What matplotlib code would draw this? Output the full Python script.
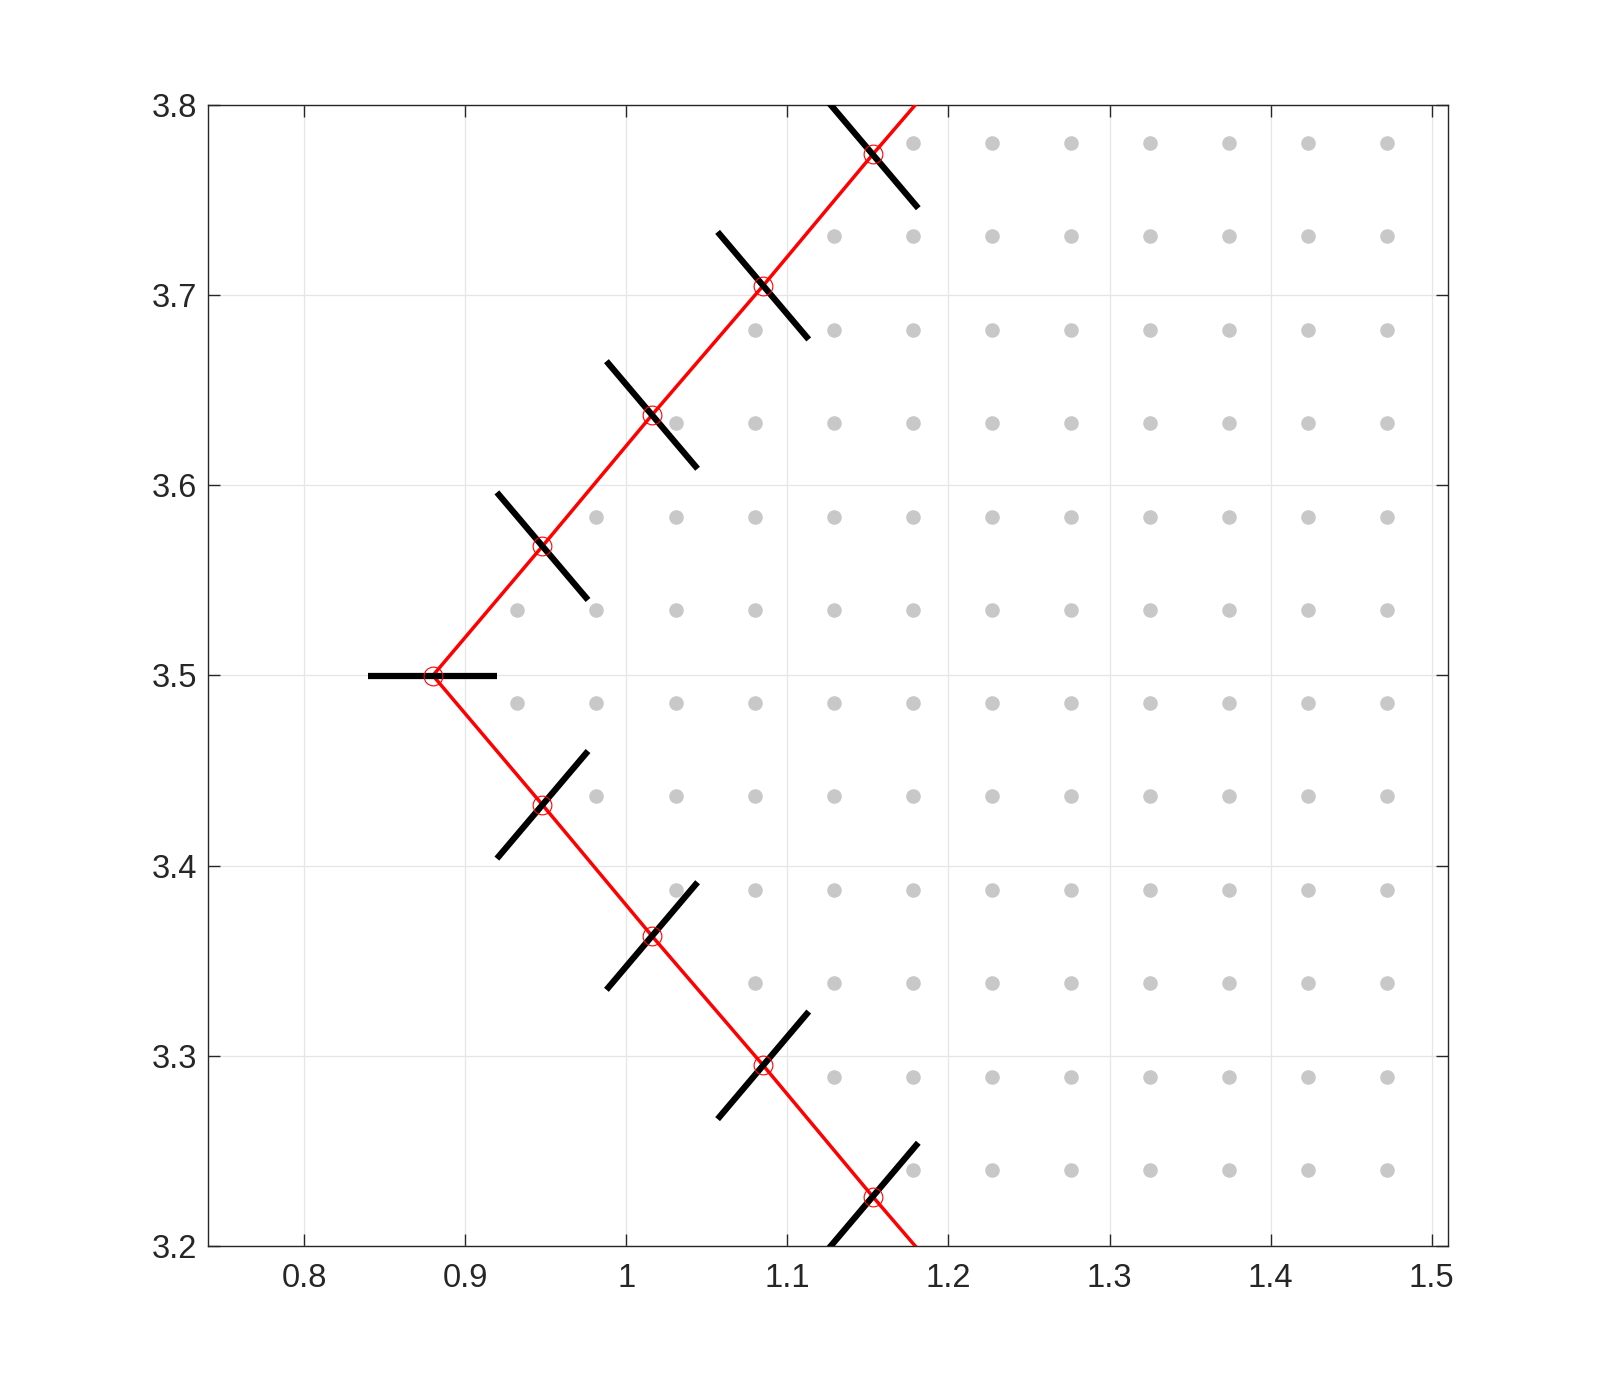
import numpy as np
import matplotlib.pyplot as plt

plt.rcParams['font.family'] = ['Liberation Sans', 'DejaVu Sans']

# boundary vertices (red polyline) and segment angles (deg) of black faces
vert_x = [1.222, 1.153, 1.085, 1.016, 0.948, 0.880, 0.948, 1.016, 1.085, 1.153, 1.222]
vert_y = [3.842, 3.774, 3.705, 3.637, 3.568, 3.500, 3.432, 3.363, 3.295, 3.226, 3.158]
face_angle = [-45, -45, -45, -45, -45, 0, 45, 45, 45, 45, 45]
face_half = 0.04

# interior grid points
dot_x = [0.9324, 0.9815, 1.0306, 1.0797, 1.1288, 1.1779,
         1.2270, 1.2761, 1.3252, 1.3743, 1.4234, 1.4725]
dot_y = [3.2400, 3.2891, 3.3382, 3.3873, 3.4364, 3.4855,
         3.5345, 3.5836, 3.6327, 3.6818, 3.7309, 3.7800]
row_start = [5, 4, 3, 2, 1, 0, 0, 1, 2, 3, 4, 5]

fig = plt.figure(figsize=(16, 14), dpi=100)
ax = fig.add_axes([0.13, 0.11, 0.775, 0.815])

for yv, s in zip(dot_y, row_start):
    ax.plot(dot_x[s:], [yv] * len(dot_x[s:]), 'o', color='#c8c8c8',
            markersize=10.5, markeredgewidth=0, zorder=2)

ax.plot(vert_x, vert_y, '-', color='red', linewidth=2.5, zorder=3)
ax.plot(vert_x[1:-1], vert_y[1:-1], 'o', mfc='none', mec='red',
        markersize=13.5, markeredgewidth=0.8, zorder=5)

for xc, yc, a in zip(vert_x, vert_y, face_angle):
    dx = face_half * np.cos(np.radians(a))
    dy = face_half * np.sin(np.radians(a))
    ax.plot([xc - dx, xc + dx], [yc - dy, yc + dy], '-', color='black',
            linewidth=4.5, solid_capstyle='butt', zorder=4)

ax.set_xlim(0.7404, 1.5101)
ax.set_ylim(3.2, 3.8)
ax.set_xticks(np.arange(0.8, 1.51, 0.1))
ax.set_xticklabels(['0.8', '0.9', '1', '1.1', '1.2', '1.3', '1.4', '1.5'])
ax.set_yticks(np.arange(3.2, 3.81, 0.1))
ax.set_yticklabels(['3.2', '3.3', '3.4', '3.5', '3.6', '3.7', '3.8'])

ax.grid(True, color='#e6e6e6', linewidth=0.9, zorder=0)
ax.set_axisbelow(True)
ax.tick_params(direction='in', length=8.5, width=1.0, top=True, right=True,
               labelsize=23.5, colors='#262626', pad=8)
ax.tick_params(axis='x', pad=12)
for sp in ax.spines.values():
    sp.set_color('#262626')
    sp.set_linewidth(1.0)

fig.savefig('out.png', dpi=100, facecolor='white')
